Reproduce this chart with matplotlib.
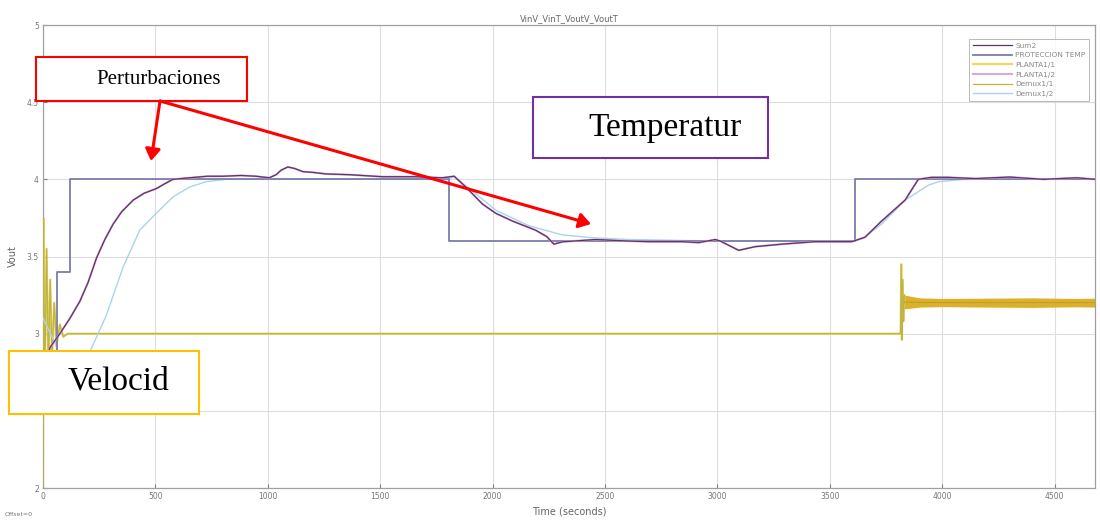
import matplotlib
matplotlib.use("Agg")
import matplotlib.pyplot as plt
from matplotlib.patches import Rectangle, FancyArrowPatch

# ---------------- data ----------------
# PROTECCION TEMP (reference step)
t_step = [0, 63, 122, 1804, 3613, 4680]
v_step = [2.7, 3.40, 4.0, 3.60, 4.0, 4.0]

# Temperature response (Sum2 / PLANTA1/2)
t_temp = [0, 31, 75, 120, 164, 200, 238, 275, 312, 350, 401, 450, 504, 540, 578,
          652, 730, 800, 880, 948, 1007, 1037, 1060, 1089, 1120, 1156, 1200, 1259,
          1363, 1509, 1659, 1776, 1829, 1881, 1955, 2014, 2088, 2192, 2240, 2273,
          2310, 2458, 2606, 2695, 2843, 2917, 2991, 3013, 3095, 3169, 3287, 3435,
          3598, 3657, 3731, 3835, 3894, 3952, 4025, 4150, 4300, 4450, 4600, 4680]
v_temp = [2.75, 2.91, 3.00, 3.10, 3.21, 3.33, 3.49, 3.61, 3.71, 3.79, 3.865, 3.91,
          3.94, 3.97, 4.0, 4.01, 4.02, 4.02, 4.025, 4.02, 4.01, 4.03, 4.06, 4.08,
          4.07, 4.05, 4.045, 4.035, 4.03, 4.017, 4.017, 4.01, 4.02, 3.95, 3.84,
          3.78, 3.73, 3.67, 3.63, 3.58, 3.595, 3.61, 3.60, 3.596, 3.596, 3.59, 3.61,
          3.60, 3.54, 3.564, 3.58, 3.596, 3.596, 3.625, 3.73, 3.865, 4.0, 4.013,
          4.013, 4.005, 4.015, 4.0, 4.01, 4.0]

# Demux1/2 (model temperature)
t_dm2 = [0, 50, 120, 170, 208, 282, 356, 430, 504, 578, 652, 726, 815, 1000, 1800,
         1830, 2014, 2160, 2310, 2458, 2606, 3000, 3613, 3650, 3731, 3835, 3940,
         3985, 4100, 4680]
v_dm2 = [3.1, 2.95, 2.7, 2.72, 2.88, 3.12, 3.43, 3.67, 3.78, 3.886, 3.95, 3.985,
         4.0, 4.0, 4.0, 4.02, 3.80, 3.70, 3.64, 3.62, 3.61, 3.60, 3.60, 3.62, 3.71,
         3.865, 3.963, 3.985, 4.0, 4.0]

# Speed (PLANTA1/1 / Demux1/1)
t_spd = [0, 2, 8, 16, 24, 32, 40, 50, 60, 75, 90, 110, 3815, 3818, 3821, 3824,
         3828, 3832]
v_spd = [2.0, 3.75, 2.7, 3.55, 2.8, 3.35, 2.85, 3.2, 2.92, 3.06, 2.98, 3.0, 3.0,
         3.45, 2.96, 3.35, 3.08, 3.25]
# Oscillation band envelope after disturbance
t_band = [3832, 3900, 4000, 4200, 4400, 4600, 4680]
v_band_hi = [3.25, 3.232, 3.228, 3.23, 3.232, 3.228, 3.23]
v_band_lo = [3.16, 3.172, 3.175, 3.172, 3.17, 3.174, 3.172]

x_ticks = [0, 500, 1000, 1500, 2000, 2500, 3000, 3500, 4000, 4500]
y_ticks = [2, 2.5, 3, 3.5, 4, 4.5, 5]

# ---------------- figure ----------------
W, H = 1100, 521
fig = plt.figure(figsize=(W / 100, H / 100), dpi=100)
ax = fig.add_axes([43 / W, 1 - 488 / H, (1095 - 43) / W, (488 - 25) / H])

grey = "#a0a0a0"
ax.grid(True, color="#dedede", lw=0.8)
ax.set_axisbelow(True)

ax.fill_between(t_band, v_band_lo, v_band_hi, color="#dcb02a", lw=0, zorder=2)
l_pl11, = ax.plot(t_spd, v_spd, color="#f0d860", lw=1.6, label="PLANTA1/1", zorder=2)
l_dm11, = ax.plot(t_spd, v_spd, color="#bcb448", lw=0.9, label="Demux1/1", zorder=3)
ax.plot(t_band, [(a + b) / 2 for a, b in zip(v_band_hi, v_band_lo)],
        color="#c09a20", lw=0.7, zorder=3)

l_dm12, = ax.plot(t_dm2, v_dm2, color="#a8d4ee", lw=1.0, label="Demux1/2", zorder=4)
l_step, = ax.plot(t_step, v_step, color="#7c7cac", lw=1.3, drawstyle="steps-post",
                  label="PROTECCION TEMP", zorder=5)
l_pl12, = ax.plot(t_temp, v_temp, color="#d8a8d8", lw=1.5, label="PLANTA1/2", zorder=6)
l_sum2, = ax.plot(t_temp, v_temp, color="#5c3468", lw=0.9, label="Sum2", zorder=7)

ax.set_xlim(0, 4680)
ax.set_ylim(2, 5)
ax.set_xticks(x_ticks)
ax.set_yticks(y_ticks)
ax.set_xticklabels([str(v) for v in x_ticks])
ax.set_yticklabels([("%g" % v) for v in y_ticks])
ax.tick_params(direction="in", length=3, labelsize=5.5, colors="#808080",
               labelcolor="#777777", top=False, right=False, pad=3)
for s in ax.spines.values():
    s.set_color(grey)
    s.set_linewidth(0.9)

ax.set_title("VinV_VinT_VoutV_VoutT", fontsize=6, color="#666666", pad=3)
ax.set_xlabel("Time (seconds)", fontsize=7, color="#666666", labelpad=4)
ax.set_ylabel("Vout", fontsize=7, color="#666666", labelpad=6)
fig.text(5 / W, 1 - 515 / H, "Offset=0", fontsize=4.5, color="#777777",
         ha="left", va="center")

leg = ax.legend(handles=[l_sum2, l_step, l_pl11, l_pl12, l_dm11, l_dm12],
                loc="upper right", bbox_to_anchor=(1093 / W, 1 - 35 / H),
                bbox_transform=fig.transFigure, fontsize=5.3, frameon=True,
                fancybox=False, edgecolor="#a8a8a8", handlelength=5.4,
                labelspacing=0.48, borderpad=0.5, handletextpad=0.4)
leg.get_frame().set_linewidth(0.7)
for t in leg.get_texts():
    t.set_color("#888888")

# ---------------- annotation boxes ----------------
def box(x0, y0, x1, y1, color, lw=1.5):
    fig.patches.append(Rectangle((x0 / W, 1 - y1 / H), (x1 - x0) / W, (y1 - y0) / H,
                                 transform=fig.transFigure, facecolor="white",
                                 edgecolor=color, lw=lw, zorder=10))

serif = ["Liberation Serif", "DejaVu Serif"]
box(36, 57, 247, 101, "#ff0000")
fig.text(159 / W, 1 - 80 / H, "Perturbaciones", family=serif, fontsize=15,
         ha="center", va="center", zorder=11)
box(533, 97, 768, 158, "#7030a0")
fig.text(665 / W, 1 - 128 / H, "Temperatur", family=serif, fontsize=24,
         ha="center", va="center", zorder=11)
box(9, 351, 199, 414, "#ffc000")
fig.text(118 / W, 1 - 381 / H, "Velocid", family=serif, fontsize=24,
         ha="center", va="center", zorder=11)

for (xa, ya), (xb, yb) in [((160, 101), (151, 161)), ((160, 101), (591, 224))]:
    fig.patches.append(FancyArrowPatch((xa / W, 1 - ya / H), (xb / W, 1 - yb / H),
                                       transform=fig.transFigure,
                                       arrowstyle="-|>,head_length=7,head_width=4.5",
                                       color="#ff0000", lw=2.2, zorder=12,
                                       shrinkA=0, shrinkB=0))

fig.savefig("out.png", dpi=100)
